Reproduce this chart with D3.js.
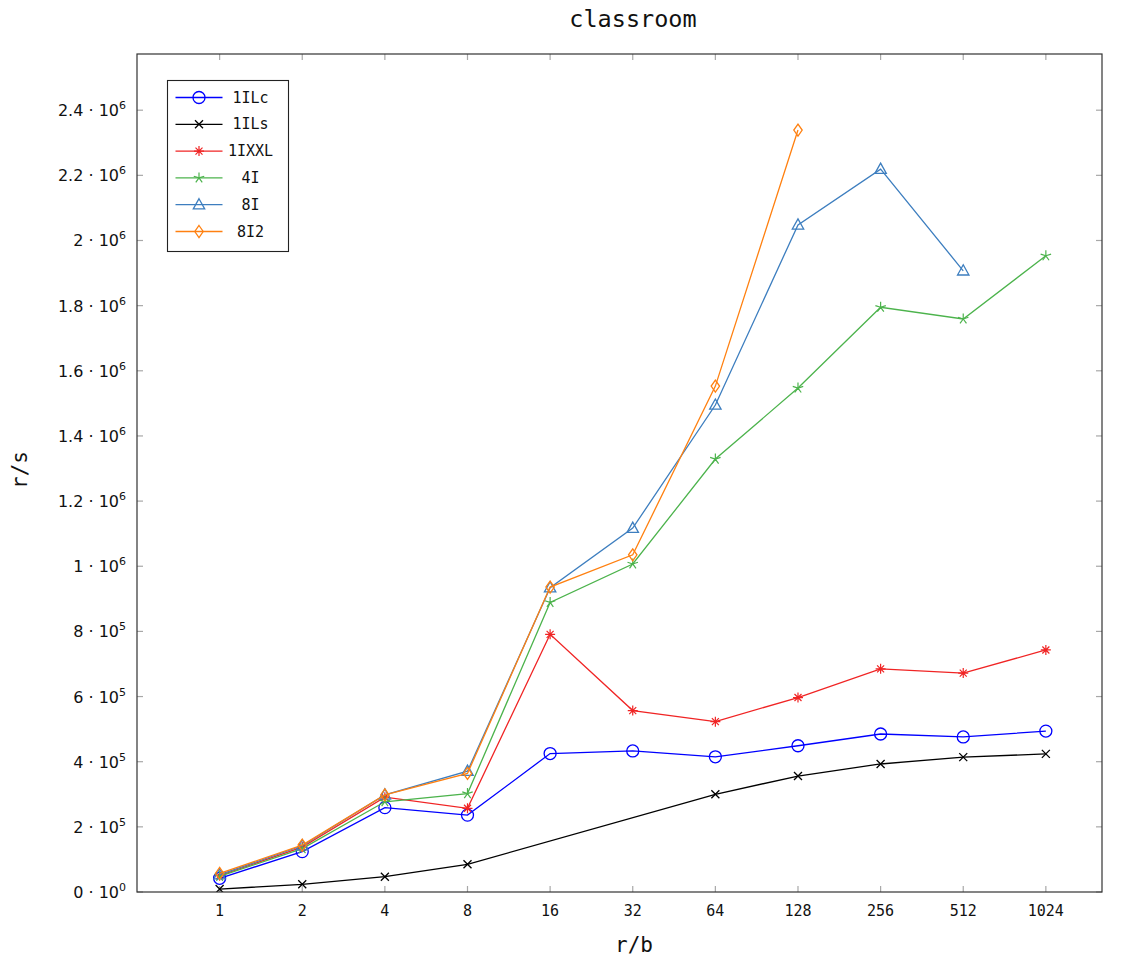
<!DOCTYPE html>
<html>
<head>
<meta charset="utf-8">
<script src="https://cdn.jsdelivr.net/npm/d3@7"></script>
<style>
  html, body { margin: 0; padding: 0; background: #fff; }
  svg { display: block; }
</style>
</head>
<body>
<svg id="chart" width="1130" height="960"></svg>
<script>
// Throughput (r/s) against batch size (r/b), classroom workload
const batchSizes = [1, 2, 4, 8, 16, 32, 64, 128, 256, 512, 1024];
const xTickLabels = ["1", "2", "4", "8", "16", "32", "64", "128", "256", "512", "1024"];
const yTicks = [0, 2e5, 4e5, 6e5, 8e5, 1e6, 1.2e6, 1.4e6, 1.6e6, 1.8e6, 2e6, 2.2e6, 2.4e6];

const seriesNames = ["1ILc", "1ILs", "1IXXL", "4I", "8I", "8I2"];
const seriesColors = ["#0000ff", "#000000", "#f02424", "#4cb34c", "#3d7ebf", "#ff8010"];
const seriesMarkers = ["circle", "cross", "asterisk", "star", "triangle", "diamond"];

const v1ILc  = [4.2e4, 1.24e5, 2.59e5, 2.36e5, 4.25e5, 4.33e5, 4.15e5, 4.49e5, 4.85e5, 4.76e5, 4.94e5];
const v1ILs  = [9e3, 2.36e4, 4.7e4, 8.5e4, null, null, 3.0e5, 3.56e5, 3.93e5, 4.14e5, 4.24e5];
const v1IXXL = [5.0e4, 1.38e5, 2.91e5, 2.57e5, 7.91e5, 5.57e5, 5.23e5, 5.97e5, 6.85e5, 6.72e5, 7.43e5];
const v4I    = [4.8e4, 1.33e5, 2.77e5, 3.02e5, 8.89e5, 1.007e6, 1.329e6, 1.547e6, 1.795e6, 1.759e6, 1.953e6];
const v8I    = [5.3e4, 1.42e5, 2.98e5, 3.71e5, 9.34e5, 1.117e6, 1.495e6, 2.048e6, 2.219e6, 1.907e6, null];
const v8I2   = [5.7e4, 1.44e5, 2.98e5, 3.64e5, 9.36e5, 1.035e6, 1.553e6, 2.339e6, null, null, null];

const seriesValues = [v1ILc, v1ILs, v1IXXL, v4I, v8I, v8I2];

const plotLeft = 137, plotRight = 1102, plotTop = 54, plotBottom = 892;

const svg = d3.select("#chart");

const x = d3.scaleLog().base(2).domain([0.5, 1640]).range([plotLeft, plotRight]);
const y = d3.scaleLinear().domain([0, 2.5725e6]).range([plotBottom, plotTop]);

const monoFont = "'DejaVu Sans Mono', monospace";
const sansFont = "'DejaVu Sans', sans-serif";

// clip region for the plot area
svg.append("defs").append("clipPath").attr("id", "plotClip")
  .append("rect").attr("x", plotLeft).attr("y", plotTop)
  .attr("width", plotRight - plotLeft).attr("height", plotBottom - plotTop);

// ticks (inside, mirrored on opposite sides)
const tickLen = 6;
const tickColor = "#a8a8a8";
const ticksG = svg.append("g");
batchSizes.forEach(b => {
  const px = x(b);
  ticksG.append("line").attr("x1", px).attr("x2", px).attr("y1", plotBottom).attr("y2", plotBottom - tickLen)
    .attr("stroke", tickColor).attr("stroke-width", 1.2);
  ticksG.append("line").attr("x1", px).attr("x2", px).attr("y1", plotTop).attr("y2", plotTop + tickLen)
    .attr("stroke", tickColor).attr("stroke-width", 1.2);
});
yTicks.forEach(t => {
  const py = y(t);
  ticksG.append("line").attr("x1", plotLeft).attr("x2", plotLeft + tickLen).attr("y1", py).attr("y2", py)
    .attr("stroke", tickColor).attr("stroke-width", 1.2);
  ticksG.append("line").attr("x1", plotRight).attr("x2", plotRight - tickLen).attr("y1", py).attr("y2", py)
    .attr("stroke", tickColor).attr("stroke-width", 1.2);
});

// x tick labels
svg.append("g").selectAll("text").data(batchSizes).join("text")
  .attr("x", d => x(d)).attr("y", 916)
  .attr("text-anchor", "middle")
  .attr("font-family", monoFont).attr("font-size", 15).attr("fill", "#111")
  .text((d, i) => xTickLabels[i]);

// y tick labels in scientific form m · 10^e
function sciParts(v) {
  if (v === 0) return ["0", "0"];
  const e = Math.floor(Math.log10(v) + 1e-9);
  const m = +(v / Math.pow(10, e)).toFixed(2);
  return [String(m), String(e)];
}
const yLab = svg.append("g").selectAll("text").data(yTicks).join("text")
  .attr("x", 126).attr("y", d => y(d) + 6)
  .attr("text-anchor", "end")
  .attr("font-family", sansFont).attr("font-size", 16).attr("fill", "#111");
yLab.each(function(d) {
  const [m, e] = sciParts(d);
  const t = d3.select(this);
  t.append("tspan").text(m + " \u00b7 10");
  t.append("tspan").attr("font-size", 11).attr("dy", -7).text(e);
});

// series lines and markers
const plot = svg.append("g").attr("clip-path", "url(#plotClip)");

function drawMarker(g, type, color) {
  if (type === "circle") {
    g.append("circle").attr("r", 6).attr("fill", "none").attr("stroke", color).attr("stroke-width", 1.3);
  } else if (type === "cross") {
    const c = 4;
    g.append("path").attr("d", `M${-c},${-c}L${c},${c}M${-c},${c}L${c},${-c}`)
      .attr("stroke", color).attr("stroke-width", 1.3).attr("fill", "none");
  } else if (type === "asterisk") {
    const c = 5, d = 3.5;
    g.append("path").attr("d", `M0,${-c}L0,${c}M${-c},0L${c},0M${-d},${-d}L${d},${d}M${-d},${d}L${d},${-d}`)
      .attr("stroke", color).attr("stroke-width", 1.2).attr("fill", "none");
  } else if (type === "star") {
    const c = 5.5;
    let p = "";
    for (let k = 0; k < 5; k++) {
      const a = -Math.PI / 2 + k * 2 * Math.PI / 5;
      p += `M0,0L${c * Math.cos(a)},${c * Math.sin(a)}`;
    }
    g.append("path").attr("d", p).attr("stroke", color).attr("stroke-width", 1.2).attr("fill", "none");
  } else if (type === "triangle") {
    const h = 6;
    g.append("path").attr("d", `M0,${-h}L${h * 0.95},${h * 0.7}L${-h * 0.95},${h * 0.7}Z`)
      .attr("stroke", color).attr("stroke-width", 1.3).attr("fill", "none");
  } else if (type === "diamond") {
    g.append("path").attr("d", `M0,-6L4.2,0L0,6L-4.2,0Z`)
      .attr("stroke", color).attr("stroke-width", 1.3).attr("fill", "none");
  }
}

const line = d3.line()
  .x(d => x(d.b)).y(d => y(d.v));

seriesNames.forEach((name, si) => {
  const pts = batchSizes.map((b, i) => ({ b, v: seriesValues[si][i] }));
  const defined = pts.filter(p => p.v !== null);
  plot.append("path").datum(defined)
    .attr("d", line)
    .attr("fill", "none").attr("stroke", seriesColors[si]).attr("stroke-width", 1.3);
  defined.forEach(p => {
    const g = plot.append("g").attr("transform", `translate(${x(p.b)},${y(p.v)})`);
    drawMarker(g, seriesMarkers[si], seriesColors[si]);
  });
});

// frame
svg.append("rect").attr("x", plotLeft).attr("y", plotTop)
  .attr("width", plotRight - plotLeft).attr("height", plotBottom - plotTop)
  .attr("fill", "none").attr("stroke", "#333").attr("stroke-width", 1.2);

// legend
const legX = 167.5, legY = 80.5, legW = 121, legH = 171, rowH = 26.8;
const leg = svg.append("g");
leg.append("rect").attr("x", legX).attr("y", legY).attr("width", legW).attr("height", legH)
  .attr("fill", "#fff").attr("stroke", "#222").attr("stroke-width", 1.1);
seriesNames.forEach((name, si) => {
  const cy = legY + 17 + si * rowH;
  leg.append("line").attr("x1", legX + 8).attr("x2", legX + 55).attr("y1", cy).attr("y2", cy)
    .attr("stroke", seriesColors[si]).attr("stroke-width", 1.3);
  const g = leg.append("g").attr("transform", `translate(${legX + 31.5},${cy})`);
  drawMarker(g, seriesMarkers[si], seriesColors[si]);
  leg.append("text").attr("x", legX + 83).attr("y", cy + 5)
    .attr("text-anchor", "middle")
    .attr("font-family", monoFont).attr("font-size", 15).attr("fill", "#111")
    .text(name);
});

// title and axis labels
svg.append("text").attr("x", 633).attr("y", 27)
  .attr("text-anchor", "middle").attr("font-family", monoFont).attr("font-size", 23.5).attr("fill", "#111")
  .text("classroom");
svg.append("text").attr("x", 634).attr("y", 952)
  .attr("text-anchor", "middle").attr("font-family", monoFont).attr("font-size", 21).attr("fill", "#111")
  .text("r/b");
svg.append("text").attr("transform", "translate(27,470) rotate(-90)")
  .attr("text-anchor", "middle").attr("font-family", monoFont).attr("font-size", 21).attr("fill", "#111")
  .text("r/s");
</script>
</body>
</html>
